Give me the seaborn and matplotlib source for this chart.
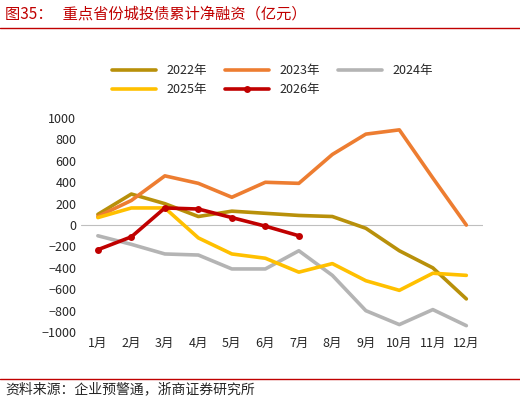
import matplotlib
matplotlib.use("Agg")
import matplotlib.pyplot as plt
import seaborn as sns
import pandas as pd

sns.set_theme(style="white")
plt.rcParams['font.family'] = ['Noto Sans CJK SC', 'DejaVu Sans']

months = ["1月", "2月", "3月", "4月", "5月", "6月", "7月", "8月", "9月", "10月", "11月", "12月"]
y2022 = [100, 290, 200, 80, 130, 110, 90, 80, -30, -240, -400, -690]
y2023 = [80, 230, 460, 390, 260, 400, 390, 660, 850, 890, 440, 0]
y2024 = [-100, -180, -270, -280, -410, -410, -240, -470, -800, -930, -790, -940]
y2025 = [70, 160, 160, -120, -270, -310, -440, -360, -520, -610, -450, -470]
y2026 = [-230, -110, 160, 150, 70, -10, -100]

series = [("2022年", y2022, "#B8900A"), ("2023年", y2023, "#ED7D31"),
          ("2024年", y2024, "#B4B4B4"), ("2025年", y2025, "#FFC000"),
          ("2026年", y2026, "#C00000")]

fig = plt.figure(figsize=(5.2, 4.03), dpi=100)
ax = fig.add_axes([0.156, 0.176, 0.773, 0.531])
x = list(range(12))
for name, vals, c in series:
    df = pd.DataFrame({"x": x[:len(vals)], "y": vals})
    mk = "o" if name == "2026年" else None
    sns.lineplot(data=df, x="x", y="y", ax=ax, color=c, linewidth=2.6,
                 marker=mk, markersize=5, markeredgewidth=0, label=name)

ax.set_ylim(-1000, 1000)
ax.set_yticks(range(-1000, 1001, 200))
ax.set_xlim(-0.5, 11.5)
ax.set_xticks(x)
ax.set_xticklabels(months)
ax.tick_params(labelsize=9, length=0)
ax.axhline(0, color="#BFBFBF", lw=0.8, zorder=0)
ax.set_xlabel("")
ax.set_ylabel("")
for s in ax.spines.values():
    s.set_visible(False)

# legend fills by column: reorder so rows read 2022/2023/2024, 2025/2026
h, l = ax.get_legend_handles_labels()
order = [0, 3, 1, 4, 2]
ax.legend([h[i] for i in order], [l[i] for i in order], ncol=3,
          loc="lower left", bbox_to_anchor=(0.05, 1.05), frameon=False,
          fontsize=9, handlelength=3.5, columnspacing=1.5)

fig.text(0.01, 0.965, "图35：   重点省份城投债累计净融资（亿元）", color="#C00000",
         fontsize=11, va="center")
fig.add_artist(plt.Line2D([0.0, 1.0], [0.93, 0.93], color="#C00000", lw=1))
fig.add_artist(plt.Line2D([0.0, 1.0], [0.06, 0.06], color="#C00000", lw=1))
fig.text(0.01, 0.035, "资料来源：企业预警通，浙商证券研究所", fontsize=10, va="center")

fig.savefig("out.png", dpi=100)
